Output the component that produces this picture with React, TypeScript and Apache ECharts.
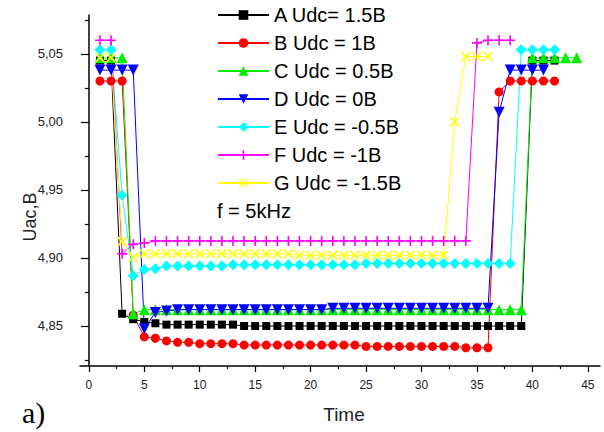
import React, { useEffect, useRef } from "react";
import * as echarts from "echarts";

const TIME = [1, 2, 3, 4, 5, 6, 7, 8, 9, 10, 11, 12, 13, 14, 15, 16, 17, 18, 19, 20, 21, 22, 23, 24, 25, 26, 27, 28, 29, 30, 31, 32, 33, 34, 35, 36, 37, 38, 39, 40, 41, 42, 43, 44];

const NAMES = ["A Udc= 1.5B", "B Udc = 1B", "C Udc = 0.5B", "D Udc = 0B", "E Udc = -0.5B", "F Udc = -1B", "G Udc = -1.5B"];

const A_VALUES = [
  5.045, 5.045, 4.859, 4.855, 4.853, 4.852, 4.851, 4.851, 4.851, 4.851,
  4.851, 4.851, 4.851, 4.850, 4.850, 4.850, 4.850, 4.850, 4.850, 4.850,
  4.850, 4.850, 4.850, 4.850, 4.850, 4.850, 4.850, 4.850, 4.850, 4.850,
  4.850, 4.850, 4.850, 4.850, 4.850, 4.850, 4.850, 4.850, 4.850, 5.045,
  5.045, 5.045,
];
const B_VALUES = [
  5.030, 5.030, 5.030, 4.858, 4.842, 4.841, 4.839, 4.838, 4.838, 4.837,
  4.837, 4.837, 4.837, 4.836, 4.836, 4.836, 4.836, 4.836, 4.836, 4.836,
  4.836, 4.836, 4.836, 4.836, 4.835, 4.835, 4.835, 4.835, 4.835, 4.835,
  4.835, 4.835, 4.835, 4.834, 4.834, 4.834, 5.022, 5.030, 5.030, 5.030,
  5.030, 5.030,
];
const C_VALUES = [
  5.047, 5.047, 5.047, 4.859, 4.862, 4.862, 4.862, 4.862, 4.862, 4.862,
  4.862, 4.862, 4.862, 4.862, 4.862, 4.862, 4.862, 4.862, 4.862, 4.862,
  4.862, 4.862, 4.862, 4.862, 4.862, 4.862, 4.862, 4.862, 4.862, 4.862,
  4.862, 4.862, 4.862, 4.862, 4.862, 4.862, 4.862, 4.862, 4.862, 5.047,
  5.047, 5.047, 5.047, 5.047,
];
const D_VALUES = [
  5.038, 5.038, 5.038, 5.038, 4.848, 4.860, 4.861, 4.862, 4.862, 4.862,
  4.862, 4.862, 4.862, 4.862, 4.862, 4.862, 4.862, 4.862, 4.862, 4.862,
  4.862, 4.863, 4.863, 4.863, 4.863, 4.863, 4.863, 4.863, 4.863, 4.863,
  4.863, 4.863, 4.863, 4.863, 4.863, 4.863, 5.007, 5.038, 5.038, 5.038,
  5.038,
];
const E_VALUES = [
  5.053, 5.053, 4.946, 4.887, 4.8915, 4.892, 4.894, 4.894, 4.894, 4.894,
  4.894, 4.894, 4.895, 4.895, 4.895, 4.895, 4.895, 4.895, 4.895, 4.895,
  4.895, 4.895, 4.895, 4.895, 4.896, 4.896, 4.896, 4.896, 4.896, 4.896,
  4.896, 4.896, 4.896, 4.896, 4.896, 4.896, 4.896, 4.896, 5.053, 5.053,
  5.053, 5.053,
];
const F_VALUES = [
  5.060, 5.060, 4.903, 4.910, 4.911, 4.9125, 4.9125, 4.9125, 4.9125, 4.9125,
  4.9125, 4.9125, 4.9125, 4.9125, 4.9125, 4.9125, 4.9125, 4.9125, 4.9125, 4.9125,
  4.9125, 4.9125, 4.9125, 4.9125, 4.9125, 4.9125, 4.9125, 4.9125, 4.9125, 4.9125,
  4.9125, 4.9125, 4.9125, 4.9125, 5.058, 5.060, 5.060, 5.060,
];
const G_VALUES = [
  5.047, 5.047, 4.912, 4.9005, 4.903, 4.903, 4.903, 4.903, 4.903, 4.903,
  4.903, 4.903, 4.903, 4.903, 4.903, 4.903, 4.903, 4.903, 4.902, 4.902,
  4.902, 4.902, 4.902, 4.902, 4.902, 4.902, 4.902, 4.902, 4.902, 4.902,
  4.902, 4.902, 5.000, 5.048, 5.048, 5.048,
];

const X_LABELS = [0, 5, 10, 15, 20, 25, 30, 35, 40, 45];
const X_MINOR = [2.5, 7.5, 12.5, 17.5, 22.5, 27.5, 32.5, 37.5, 42.5];
const Y_LABELS = [4.85, 4.9, 4.95, 5.0, 5.05];
const Y_MINOR = [4.825, 4.875, 4.925, 4.975, 5.025, 5.075];

const ALL_VALUES = [A_VALUES, B_VALUES, C_VALUES, D_VALUES, E_VALUES, F_VALUES, G_VALUES];
const COLORS = ["#000000", "#ff0000", "#00ee00", "#0000ff", "#00ffff", "#ff00ff", "#ffff00"];
const PLUS = "path://M4.2,0H5.8V4.2H10V5.8H5.8V10H4.2V5.8H0V4.2H4.2Z";
const CROSS = "path://M0,1.1L1.1,0L5,3.9L8.9,0L10,1.1L6.1,5L10,8.9L8.9,10L5,6.1L1.1,10L0,8.9L3.9,5Z";
const SYMBOLS = ["rect", "circle", "triangle", "triangle", "diamond", PLUS, CROSS];
const ROTATES = [0, 0, 0, 180, 0, 0, 0];
const SIZES = [8, 9, 11, 11, 11, 10, 10];

const FONT = "'Liberation Sans', Arial, sans-serif";

export default function App() {
  const ref = useRef<HTMLDivElement>(null);
  useEffect(() => {
    if (!ref.current) return;
    const chart = echarts.init(ref.current, null, { renderer: "svg" });
    const series = ALL_VALUES.map((vals, si) => ({
      name: NAMES[si],
      type: "line",
      xAxisIndex: 0,
      yAxisIndex: 0,
      data: vals.map((v, i) => [TIME[i], v]),
      symbol: SYMBOLS[si],
      symbolRotate: ROTATES[si],
      symbolSize: SIZES[si],
      showAllSymbol: true,
      itemStyle: { color: COLORS[si] },
      lineStyle: { color: COLORS[si], width: 1 },
      emphasis: { disabled: true },
    }));
    chart.setOption({
      animation: false,
      grid: { left: 80, top: 15, right: 4, bottom: 66, containLabel: false },
      legend: {
        orient: "vertical",
        left: 217,
        top: 5,
        padding: 0,
        itemWidth: 51,
        itemHeight: 12,
        itemGap: 8,
        textStyle: { fontSize: 20, fontFamily: FONT, color: "#000", lineHeight: 20 },
        data: NAMES,
      },
      xAxis: [
        {
          type: "value",
          min: -0.8,
          max: 46.1,
          splitLine: { show: false },
          axisLine: { show: true, lineStyle: { color: "#000", width: 1.5 } },
          axisTick: { show: true, length: 6, customValues: X_LABELS, lineStyle: { color: "#000", width: 1.2 } },
          axisLabel: { customValues: X_LABELS, fontSize: 12, fontFamily: FONT, color: "#222", margin: 13 },
        },
        {
          type: "value",
          position: "bottom",
          min: -0.8,
          max: 46.1,
          splitLine: { show: false },
          axisLine: { show: false },
          axisTick: { show: true, length: 3, customValues: X_MINOR, lineStyle: { color: "#000", width: 1.2 } },
          axisLabel: { show: false },
        },
      ],
      yAxis: [
        {
          type: "value",
          min: 4.8206,
          max: 5.0785,
          splitLine: { show: false },
          axisLine: { show: true, lineStyle: { color: "#000", width: 1.5 } },
          axisTick: { show: true, length: 8, customValues: Y_LABELS, lineStyle: { color: "#000", width: 1.2 } },
          axisLabel: {
            customValues: Y_LABELS,
            fontSize: 13,
            fontFamily: FONT,
            color: "#222",
            margin: 17,
            formatter: (v: number) => v.toFixed(2).replace(".", ","),
          },
        },
        {
          type: "value",
          position: "left",
          min: 4.8206,
          max: 5.0785,
          splitLine: { show: false },
          axisLine: { show: false },
          axisTick: { show: true, length: 4, customValues: Y_MINOR, lineStyle: { color: "#000", width: 1.2 } },
          axisLabel: { show: false },
        },
      ],
      graphic: [
        {
          type: "text",
          x: 217,
          y: 211,
          style: { text: "f = 5kHz", fontSize: 20, fontFamily: FONT, fill: "#000", textAlign: "left", textVerticalAlign: "middle" },
        },
        {
          type: "text",
          x: 30,
          y: 217,
          rotation: Math.PI / 2,
          style: { text: "Uac,B", fontSize: 18, fontFamily: FONT, fill: "#222", textAlign: "center", textVerticalAlign: "middle" },
        },
        {
          type: "text",
          x: 344,
          y: 414,
          style: { text: "Time", fontSize: 19, fontFamily: FONT, fill: "#222", textAlign: "center", textVerticalAlign: "middle" },
        },
        {
          type: "text",
          x: 22,
          y: 412,
          style: { text: "a)", fontSize: 30, fontFamily: "'Liberation Serif', 'Times New Roman', serif", fill: "#000", textAlign: "left", textVerticalAlign: "middle" },
        },
      ],
      series,
    });
    return () => chart.dispose();
  }, []);
  return <div ref={ref} style={{ width: 604, height: 432, position: "absolute", left: 0, top: 0 }} />;
}
